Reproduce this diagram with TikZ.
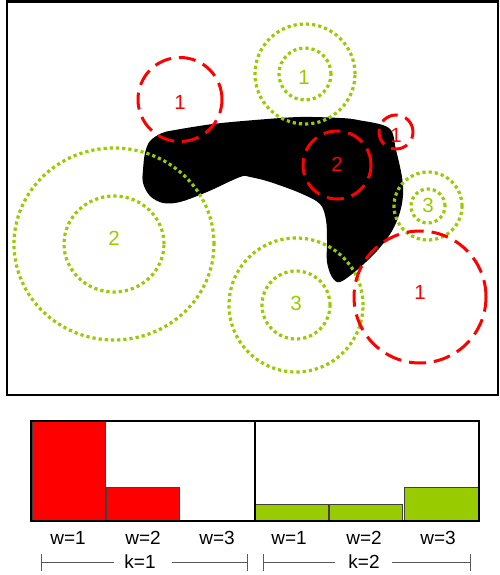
\documentclass[tikz,border=0pt]{standalone}
\usepackage{fontspec}
\setmainfont{Liberation Sans}
\definecolor{myred}{HTML}{FF0000}
\definecolor{mygreen}{HTML}{99CC00}
\begin{document}
\begin{tikzpicture}[x=1pt,y=-1pt,
  reddash/.style={draw=myred,line width=3pt,dash pattern=on 17pt off 8pt},
  greendot/.style={draw=mygreen,line width=3.2pt,dash pattern=on 3.2pt off 3pt},
  redlbl/.style={text=myred,font=\fontsize{20.5pt}{20.5pt}\selectfont,inner sep=0pt},
  greenlbl/.style={text=mygreen,font=\fontsize{20.5pt}{20.5pt}\selectfont,inner sep=0pt},
  axlbl/.style={font=\fontsize{19pt}{19pt}\selectfont,inner sep=0pt},
  redbar/.style={fill=myred,draw=black!75,line width=0.8pt},
  greenbar/.style={fill=mygreen,draw=black!75,line width=0.8pt},
  klinestyle/.style={draw=black!65,line width=1pt}]
\useasboundingbox (0,0) rectangle (499,575);
\fill[white] (0,0) rectangle (499,575);
% top frame
\draw[line width=2.6pt] (7,1.5) rectangle (498,395);
% black blob
\fill[black] plot[smooth cycle,tension=0.55] coordinates {
 (143,170) (145,153) (150,141) (162,133) (175,130) (213,124) (255,120)
 (300,117) (340,118) (358,120) (389,128) (396,150) (402,177) (403,195)
 (400,212) (392,231) (377,251) (357,270) (340,282) (332,277) (327,262)
 (327,240) (326,220) (320,204) (300,193) (270,182) (250,177) (240,177)
 (207,192) (180,202) (163,203) (150,196) (143,183)};
% green circles
\draw[greendot] (305,74) circle[radius=50pt];
\draw[greendot] (305,74) circle[radius=26pt];
\draw[greendot] (114,244) ellipse[x radius=100pt,y radius=96pt];
\draw[greendot] (114,244) ellipse[x radius=50pt,y radius=48pt];
\draw[greendot] (428,206) circle[radius=34pt];
\draw[greendot] (428,206) circle[radius=17pt];
\draw[greendot] (296,305) circle[radius=67pt];
\draw[greendot] (296,305) circle[radius=34pt];
% red circles
\draw[reddash] (180,99.5) circle[radius=42pt];
\draw[reddash] (396,132) circle[radius=17pt];
\draw[reddash] (337,165) circle[radius=34pt];
\draw[reddash] (420,297) circle[radius=66pt];
% circle labels
\node[redlbl] (ra) at (180,102) {1};
\node[greenlbl] (ga) at (304,77) {1};
\node[redlbl] (rb) at (396,135) {1};
\node[redlbl] (rc) at (337,164) {2};
\node[greenlbl] (gb) at (428,205) {3};
\node[greenlbl] (gc) at (114,238) {2};
\node[greenlbl] (gd) at (296,303) {3};
\node[redlbl] (rd) at (420,292) {1};
% bar chart
\draw[redbar] (32,421) rectangle (105,521);
\draw[redbar] (106,487) rectangle (179,521);
\draw[greenbar] (255,504) rectangle (328,521);
\draw[greenbar] (329,504) rectangle (402,521);
\draw[greenbar] (404,487) rectangle (478,521);
\draw[line width=2.6pt] (31,421) rectangle (479,521);
\draw[line width=1.6pt] (255,421) -- (255,521);
% axis labels
\node[axlbl] (w1a) at (68,538) {w=1};
\node[axlbl] (w2a) at (143,538) {w=2};
\node[axlbl] (w3a) at (217,538) {w=3};
\node[axlbl] (w1b) at (289,538) {w=1};
\node[axlbl] (w2b) at (364,538) {w=2};
\node[axlbl] (w3b) at (438,538) {w=3};
\node[axlbl] (k1) at (140,562) {k=1};
\node[axlbl] (k2) at (364,562) {k=2};
% k brackets
\coordinate (k1l) at (41,562);
\coordinate (k1r) at (247,562);
\coordinate (k2l) at (263,562);
\coordinate (k2r) at (470,562);
\draw[klinestyle] (k1l) -- (114,562) (172,562) -- (k1r);
\draw[klinestyle] ([yshift=-9pt]k1l) -- ([yshift=8pt]k1l);
\draw[klinestyle] ([yshift=-9pt]k1r) -- ([yshift=8pt]k1r);
\draw[klinestyle] (k2l) -- (335,562) (392,562) -- (k2r);
\draw[klinestyle] ([yshift=-9pt]k2l) -- ([yshift=8pt]k2l);
\draw[klinestyle] ([yshift=-9pt]k2r) -- ([yshift=8pt]k2r);
\end{tikzpicture}
\end{document}
